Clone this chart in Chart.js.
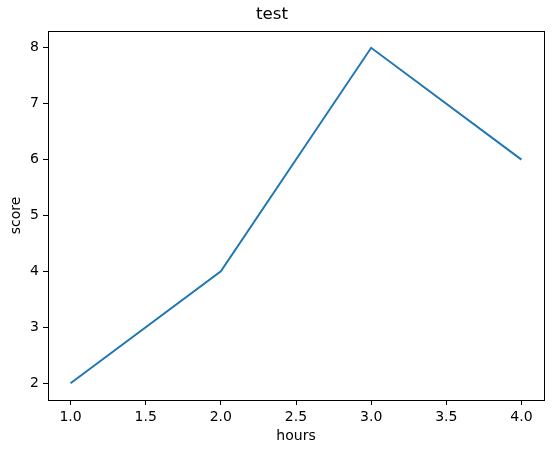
<!DOCTYPE html>
<html>
<head>
<meta charset="utf-8">
<script src="https://cdn.jsdelivr.net/npm/chart.js@4"></script>
<style>
  html, body { margin: 0; padding: 0; background: #fff; }
  #wrap { width: 554px; height: 453px; }
</style>
</head>
<body>
<div id="wrap"><canvas id="chart" width="554" height="453"></canvas></div>
<script>
// data
const hours = [1, 2, 3, 4];
const score = [2, 4, 8, 6];
const xTicks = [1.0, 1.5, 2.0, 2.5, 3.0, 3.5, 4.0];
const yTicks = [2, 3, 4, 5, 6, 7, 8];

const FONT = 'DejaVu Sans';

// matplotlib style box around the axes
const frame = {
  id: 'frame',
  afterDraw(chart) {
    const { ctx, chartArea: a } = chart;
    ctx.save();
    ctx.strokeStyle = '#000';
    ctx.lineWidth = 1;
    ctx.strokeRect(Math.round(a.left) + 0.5, Math.round(a.top) + 0.5,
      Math.round(a.right - a.left), Math.round(a.bottom - a.top));
    ctx.restore();
  }
};

const axisCommon = {
  type: 'linear',
  border: { display: false },
  grid: { drawOnChartArea: false, drawTicks: true, tickLength: 5, tickColor: '#000', tickWidth: 1 },
  ticks: { color: '#000', padding: 4, font: { family: FONT, size: 14 } }
};

new Chart(document.getElementById('chart'), {
  type: 'line',
  plugins: [frame],
  data: {
    datasets: [{
      data: hours.map((h, i) => ({ x: h, y: score[i] })),
      borderColor: '#1f77b4',
      borderWidth: 2,
      pointRadius: 0,
      tension: 0,
      fill: false
    }]
  },
  options: {
    responsive: false,
    animation: false,
    layout: { padding: { left: 0, right: 10, top: 0, bottom: 0 } },
    plugins: {
      legend: { display: false },
      tooltip: { enabled: false },
      title: {
        display: true,
        text: 'test',
        color: '#000',
        font: { family: FONT, size: 16.7, weight: 'normal' },
        padding: { top: 5, bottom: 6 }
      }
    },
    scales: {
      x: {
        ...axisCommon,
        min: 0.85,
        max: 4.15,
        afterBuildTicks: s => { s.ticks = xTicks.map(v => ({ value: v })); },
        afterFit: s => { s.height = 53; },
        ticks: { ...axisCommon.ticks, maxRotation: 0, callback: v => Number(v).toFixed(1) },
        title: {
          display: true, text: 'hours', color: '#000',
          font: { family: FONT, size: 14 }, padding: { top: 0, bottom: 8 }
        }
      },
      y: {
        ...axisCommon,
        min: 1.7,
        max: 8.3,
        afterBuildTicks: s => { s.ticks = yTicks.map(v => ({ value: v })); },
        afterFit: s => { s.width = 48; },
        ticks: { ...axisCommon.ticks, callback: v => String(v) },
        title: {
          display: true, text: 'score', color: '#000',
          font: { family: FONT, size: 14 }, padding: { top: 8, bottom: 0 }
        }
      }
    }
  }
});
</script>
</body>
</html>
